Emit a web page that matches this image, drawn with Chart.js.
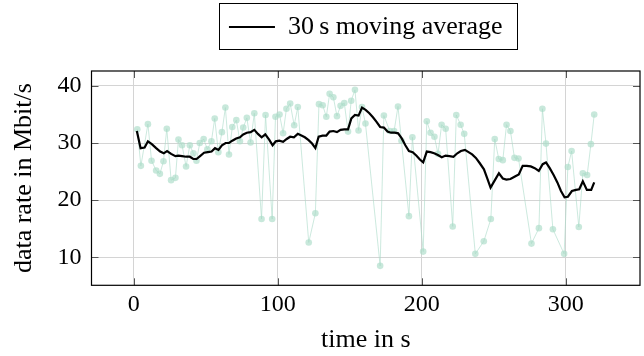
<!DOCTYPE html>
<html>
<head>
<meta charset="utf-8">
<script src="https://cdn.jsdelivr.net/npm/chart.js@4/dist/chart.umd.min.js"></script>
<style>
  html, body { margin: 0; padding: 0; background: #fff; }
  #wrap { width: 644px; height: 356px; }
</style>
</head>
<body>
<div id="wrap"><canvas id="rateChart"></canvas></div>
<script>
// raw samples (time in s, data rate in Mbit/s)
const rateTimes = [2.4, 4.9, 9.8, 12.3, 15.5, 18.1, 20.6, 22.9, 25.9, 28.9, 31.0, 33.5, 36.3, 38.9, 41.4, 43.5, 45.8, 48.5, 51.1, 53.9,
  56.2, 58.7, 61.2, 63.6, 66.1, 68.4, 71.2, 73.7, 76.0, 78.5, 81.1, 83.7, 88.7, 91.5, 96.1, 98.4, 101.2, 103.7, 106.0, 108.6,
  111.4, 113.9, 121.5, 126.1, 128.6, 131.2, 133.7, 136.0, 138.6, 141.1, 143.6, 146.2, 148.8, 151.0, 153.6, 156.1, 158.5, 160.9, 171.1, 173.7,
  177.8, 180.8, 183.5, 185.9, 191.1, 193.5, 201.0, 203.5, 206.1, 208.8, 211.3, 213.8, 216.6, 221.5, 224.0, 227.0, 229.5, 237.2, 243.1, 248.0,
  250.7, 253.5, 256.3, 258.9, 261.6, 264.4, 267.2, 276.2, 281.4, 283.8, 286.3, 291.1, 298.9, 301.5, 304.1, 309.1, 311.9, 314.9, 317.5, 319.8];
const rateValues = [32.4, 26.0, 33.3, 26.9, 25.2, 24.6, 26.8, 32.5, 23.5, 23.9, 30.6, 29.6, 25.9, 29.6, 28.2, 26.9, 30.0, 30.7, 28.9, 30.3,
  34.3, 28.4, 31.9, 36.2, 28.0, 32.8, 34.0, 30.3, 32.7, 34.4, 30.1, 35.2, 16.7, 34.9, 16.7, 34.6, 35.0, 31.7, 36.0, 36.9,
  33.1, 36.3, 12.6, 17.7, 36.8, 36.6, 34.6, 38.6, 38.0, 34.7, 36.5, 37.0, 32.0, 37.4, 39.3, 32.2, 36.3, 33.4, 8.5, 34.8,
  32.1, 32.1, 36.4, 30.4, 17.2, 31.0, 11.0, 33.8, 31.8, 31.1, 28.1, 33.2, 32.5, 15.4, 34.9, 33.2, 31.6, 10.6, 12.8, 16.7,
  30.7, 27.2, 27.0, 33.2, 32.1, 27.4, 27.3, 12.4, 15.1, 36.0, 29.9, 14.9, 10.6, 25.8, 28.6, 15.3, 24.7, 24.4, 29.8, 35.0];

// 30 s moving average
const avgTimes = [2.1, 4.7, 7.5, 9.8, 12.5, 15.5, 18.3, 20.8, 23.1, 25.9, 28.9, 31.0, 33.5, 36.3, 38.9, 41.3, 43.6, 46.0, 48.8, 51.4,
  54.0, 56.4, 58.8, 61.2, 63.8, 66.1, 68.4, 71.1, 73.7, 76.0, 78.5, 81.1, 83.7, 86.2, 88.8, 91.3, 94.0, 96.4, 98.6, 101.0,
  103.7, 106.2, 108.6, 111.2, 113.9, 116.4, 118.8, 121.4, 123.8, 126.1, 128.4, 131.1, 133.7, 136.0, 138.6, 141.1, 143.6, 146.2, 148.8, 151.1,
  153.6, 156.1, 158.5, 161.0, 163.6, 166.1, 168.6, 171.1, 173.7, 176.2, 178.7, 181.2, 183.6, 186.1, 188.6, 191.1, 193.7, 196.2, 198.7, 201.0,
  203.5, 206.1, 208.6, 211.2, 213.9, 216.6, 219.3, 222.0, 224.7, 227.2, 230.0, 232.5, 235.0, 237.6, 240.2, 243.2, 245.5, 247.8, 250.8, 253.6,
  256.3, 258.8, 261.6, 264.4, 267.4, 270.1, 272.9, 275.7, 278.5, 281.3, 284.0, 286.3, 288.9, 291.6, 294.2, 296.7, 299.2, 301.5, 304.3, 307.1,
  309.4, 311.9, 314.7, 317.7, 319.8];
const avgValues = [32.1, 29.1, 29.2, 30.3, 29.8, 29.1, 28.5, 28.2, 28.6, 28.1, 27.7, 27.8, 27.7, 27.6, 27.6, 27.2, 27.2, 27.7, 28.3, 28.4,
  28.5, 29.1, 28.8, 29.6, 30.0, 30.0, 30.4, 30.8, 31.0, 31.5, 31.8, 31.9, 32.3, 31.6, 31.0, 31.5, 30.6, 29.6, 30.3, 30.4,
  30.2, 30.7, 31.1, 31.0, 31.6, 31.3, 31.0, 30.5, 29.9, 29.1, 31.1, 31.3, 31.3, 32.0, 32.1, 31.9, 32.3, 32.4, 32.4, 34.3,
  34.9, 34.8, 36.2, 35.8, 35.2, 34.5, 33.7, 32.8, 32.7, 32.0, 31.8, 31.8, 31.7, 30.8, 29.6, 28.6, 28.4, 27.8, 27.1, 26.6,
  28.5, 28.4, 28.2, 27.9, 27.5, 27.8, 27.7, 27.6, 28.2, 28.6, 28.8, 28.4, 28.0, 27.4, 26.5, 25.4, 23.8, 22.2, 23.5, 24.7,
  23.8, 23.6, 23.7, 24.1, 24.5, 26.0, 26.0, 25.9, 25.6, 25.1, 26.3, 26.6, 25.6, 24.4, 23.1, 21.6, 20.5, 20.6, 21.6, 21.8,
  21.9, 23.3, 21.8, 21.8, 23.1];

const xTicks = [0, 100, 200, 300];
const yTicks = [10, 20, 30, 40];

const serif = '"Liberation Serif", "Times New Roman", serif';

// give the legend extra room below it, like the pgfplots layout
const legendGap = {
  id: 'legendGap',
  afterInit(chart) {
    const lg = chart.legend;
    const fit = lg.fit.bind(lg);
    lg.fit = function () { fit(); this.height += 21; };
  }
};

// frame around plot + inward tick marks + legend box
const framePlugin = {
  id: 'frame',
  afterDraw(chart) {
    const ctx = chart.ctx;
    const a = chart.chartArea;
    const xs = chart.scales.x, ys = chart.scales.y;
    ctx.save();
    ctx.strokeStyle = '#555';
    ctx.lineWidth = 1;
    ctx.beginPath();
    xTicks.forEach(v => {
      const px = Math.round(xs.getPixelForValue(v)) + 0.5;
      ctx.moveTo(px, a.bottom); ctx.lineTo(px, a.bottom - 7);
      ctx.moveTo(px, a.top); ctx.lineTo(px, a.top + 7);
    });
    yTicks.forEach(v => {
      const py = Math.round(ys.getPixelForValue(v)) + 0.5;
      ctx.moveTo(a.left, py); ctx.lineTo(a.left + 7, py);
      ctx.moveTo(a.right, py); ctx.lineTo(a.right - 7, py);
    });
    ctx.stroke();
    ctx.strokeStyle = '#000';
    ctx.lineWidth = 1.2;
    ctx.strokeRect(a.left, a.top, a.right - a.left, a.bottom - a.top);

    const hb = chart.legend.legendHitBoxes[0];
    if (hb) {
      ctx.lineWidth = 1;
      ctx.strokeRect(Math.round(hb.left - 10) + 0.5, Math.round(hb.top - 11) + 0.5,
        Math.round(hb.width + 24), Math.round(hb.height + 20));
    }
    ctx.restore();
  }
};

new Chart(document.getElementById('rateChart'), {
  type: 'scatter',
  data: {
    datasets: [{
      label: '30\u2009s moving average',
      data: avgTimes.map((t, i) => ({ x: t, y: avgValues[i] })),
      showLine: true,
      borderColor: '#000',
      backgroundColor: '#000',
      borderWidth: 2.2,
      pointRadius: 0,
      pointStyle: 'line',
      tension: 0
    }, {
      label: 'samples',
      data: rateTimes.map((t, i) => ({ x: t, y: rateValues[i] })),
      showLine: true,
      borderColor: 'rgba(170, 218, 200, 0.6)',
      borderWidth: 1,
      backgroundColor: 'rgba(170, 220, 200, 0.65)',
      pointRadius: 3.3,
      pointBorderWidth: 0,
      tension: 0
    }]
  },
  options: {
    responsive: true,
    maintainAspectRatio: false,
    animation: false,
    layout: { padding: { left: 0, right: 3, top: 0, bottom: 0 } },
    plugins: {
      tooltip: { enabled: false },
      legend: {
        position: 'top',
        fullSize: false,
        labels: {
          filter: item => item.datasetIndex === 0,
          usePointStyle: true,
          pointStyleWidth: 46,
          color: '#000',
          padding: 14,
          font: { family: serif, size: 26 }
        }
      }
    },
    scales: {
      x: {
        type: 'linear',
        min: -29.4,
        max: 351.6,
        afterFit: s => { s.height = 70.7; },
        afterBuildTicks: s => { s.ticks = xTicks.map(v => ({ value: v })); },
        ticks: { color: '#000', padding: 5, font: { family: serif, size: 24 } },
        grid: { color: '#d4d4d4', lineWidth: 1, drawTicks: false },
        border: { display: false },
        title: { display: true, text: 'time in s', color: '#000', padding: { top: 0, bottom: 0 },
          font: { family: serif, size: 26 } }
      },
      y: {
        min: 5.1,
        max: 42.6,
        afterFit: s => { s.width = 91.5; },
        afterBuildTicks: s => { s.ticks = yTicks.map(v => ({ value: v })); },
        ticks: { color: '#000', padding: 10, font: { family: serif, size: 24 } },
        grid: { color: '#d4d4d4', lineWidth: 1, drawTicks: false },
        border: { display: false },
        title: { display: true, text: 'data rate in Mbit/s', color: '#000', padding: { top: 9, bottom: 0 },
          font: { family: serif, size: 26 } }
      }
    }
  },
  plugins: [legendGap, framePlugin]
});
</script>
</body>
</html>
